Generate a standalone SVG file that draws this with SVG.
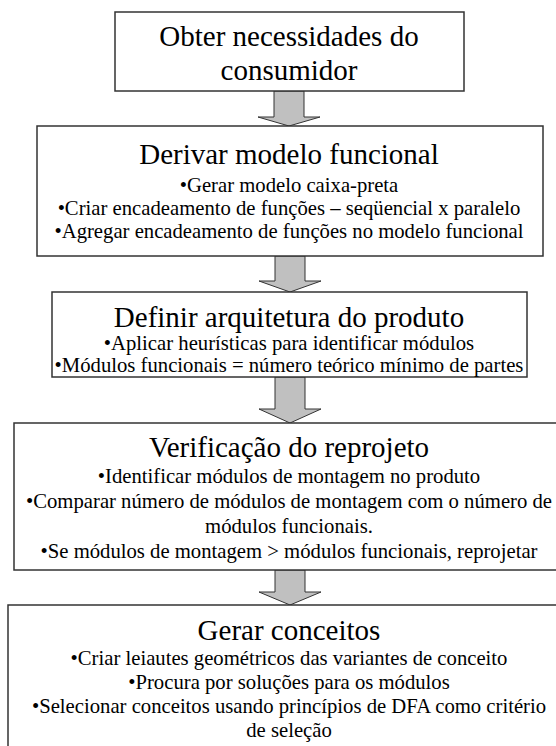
<svg xmlns="http://www.w3.org/2000/svg" width="556" height="746" viewBox="0 0 556 746">
<style>
.box{fill:#fff;stroke:#333;stroke-width:1.5}
.arr{fill:#c0c0c0;stroke:#333;stroke-width:1}
text{font-family:"Liberation Serif","Times New Roman",serif;text-anchor:middle;fill:#000}
.t{font-size:29px}
.b{font-size:20.7px}
</style>
<rect width="556" height="746" fill="#fff"/>
<g id="connectors">
<polygon class="arr" points="274,91 304,91 304,117 320,117 289,126 258,117 274,117"/>
<polygon class="arr" points="275,256 305,256 305,281 321,281 290,292 259,281 275,281"/>
<polygon class="arr" points="275,377 305,377 305,409 321,409 290,423 259,409 275,409"/>
<polygon class="arr" points="275,570 305,570 305,592 321,592 290,605 259,592 275,592"/>
</g>
<g id="n1">
<rect class="box" x="115" y="12" width="349" height="79"/>
<text class="t" x="289" y="46">Obter necessidades do</text>
<text class="t" x="289" y="80">consumidor</text>
</g>
<g id="n2">
<rect class="box" x="37" y="126" width="506" height="130"/>
<text class="t" x="289" y="164">Derivar modelo funcional</text>
<text class="b" x="289" y="192">•Gerar modelo caixa-preta</text>
<text class="b" x="289" y="215">•Criar encadeamento de funções – seqüencial x paralelo</text>
<text class="b" x="289" y="238">•Agregar encadeamento de funções no modelo funcional</text>
</g>
<g id="n3">
<rect class="box" x="52" y="292" width="475" height="85"/>
<text class="t" x="289" y="327">Definir arquitetura do produto</text>
<text class="b" x="289" y="350">•Aplicar heurísticas para identificar módulos</text>
<text class="b" x="289" y="372">•Módulos funcionais = número teórico mínimo de partes</text>
</g>
<g id="n4">
<rect class="box" x="14" y="423" width="552" height="147"/>
<text class="t" x="289" y="457">Verificação do reprojeto</text>
<text class="b" x="289" y="483">•Identificar módulos de montagem no produto</text>
<text class="b" x="289" y="508">•Comparar número de módulos de montagem com o número de</text>
<text class="b" x="289" y="533">módulos funcionais.</text>
<text class="b" x="289" y="558">•Se módulos de montagem &gt; módulos funcionais, reprojetar</text>
</g>
<g id="n5">
<rect class="box" x="8" y="605" width="564" height="160"/>
<text class="t" x="289" y="640">Gerar conceitos</text>
<text class="b" x="289" y="665">•Criar leiautes geométricos das variantes de conceito</text>
<text class="b" x="289" y="689">•Procura por soluções para os  módulos</text>
<text class="b" x="289" y="713">•Selecionar conceitos usando princípios de DFA como critério</text>
<text class="b" x="289" y="737">de seleção</text>
</g>
</svg>
